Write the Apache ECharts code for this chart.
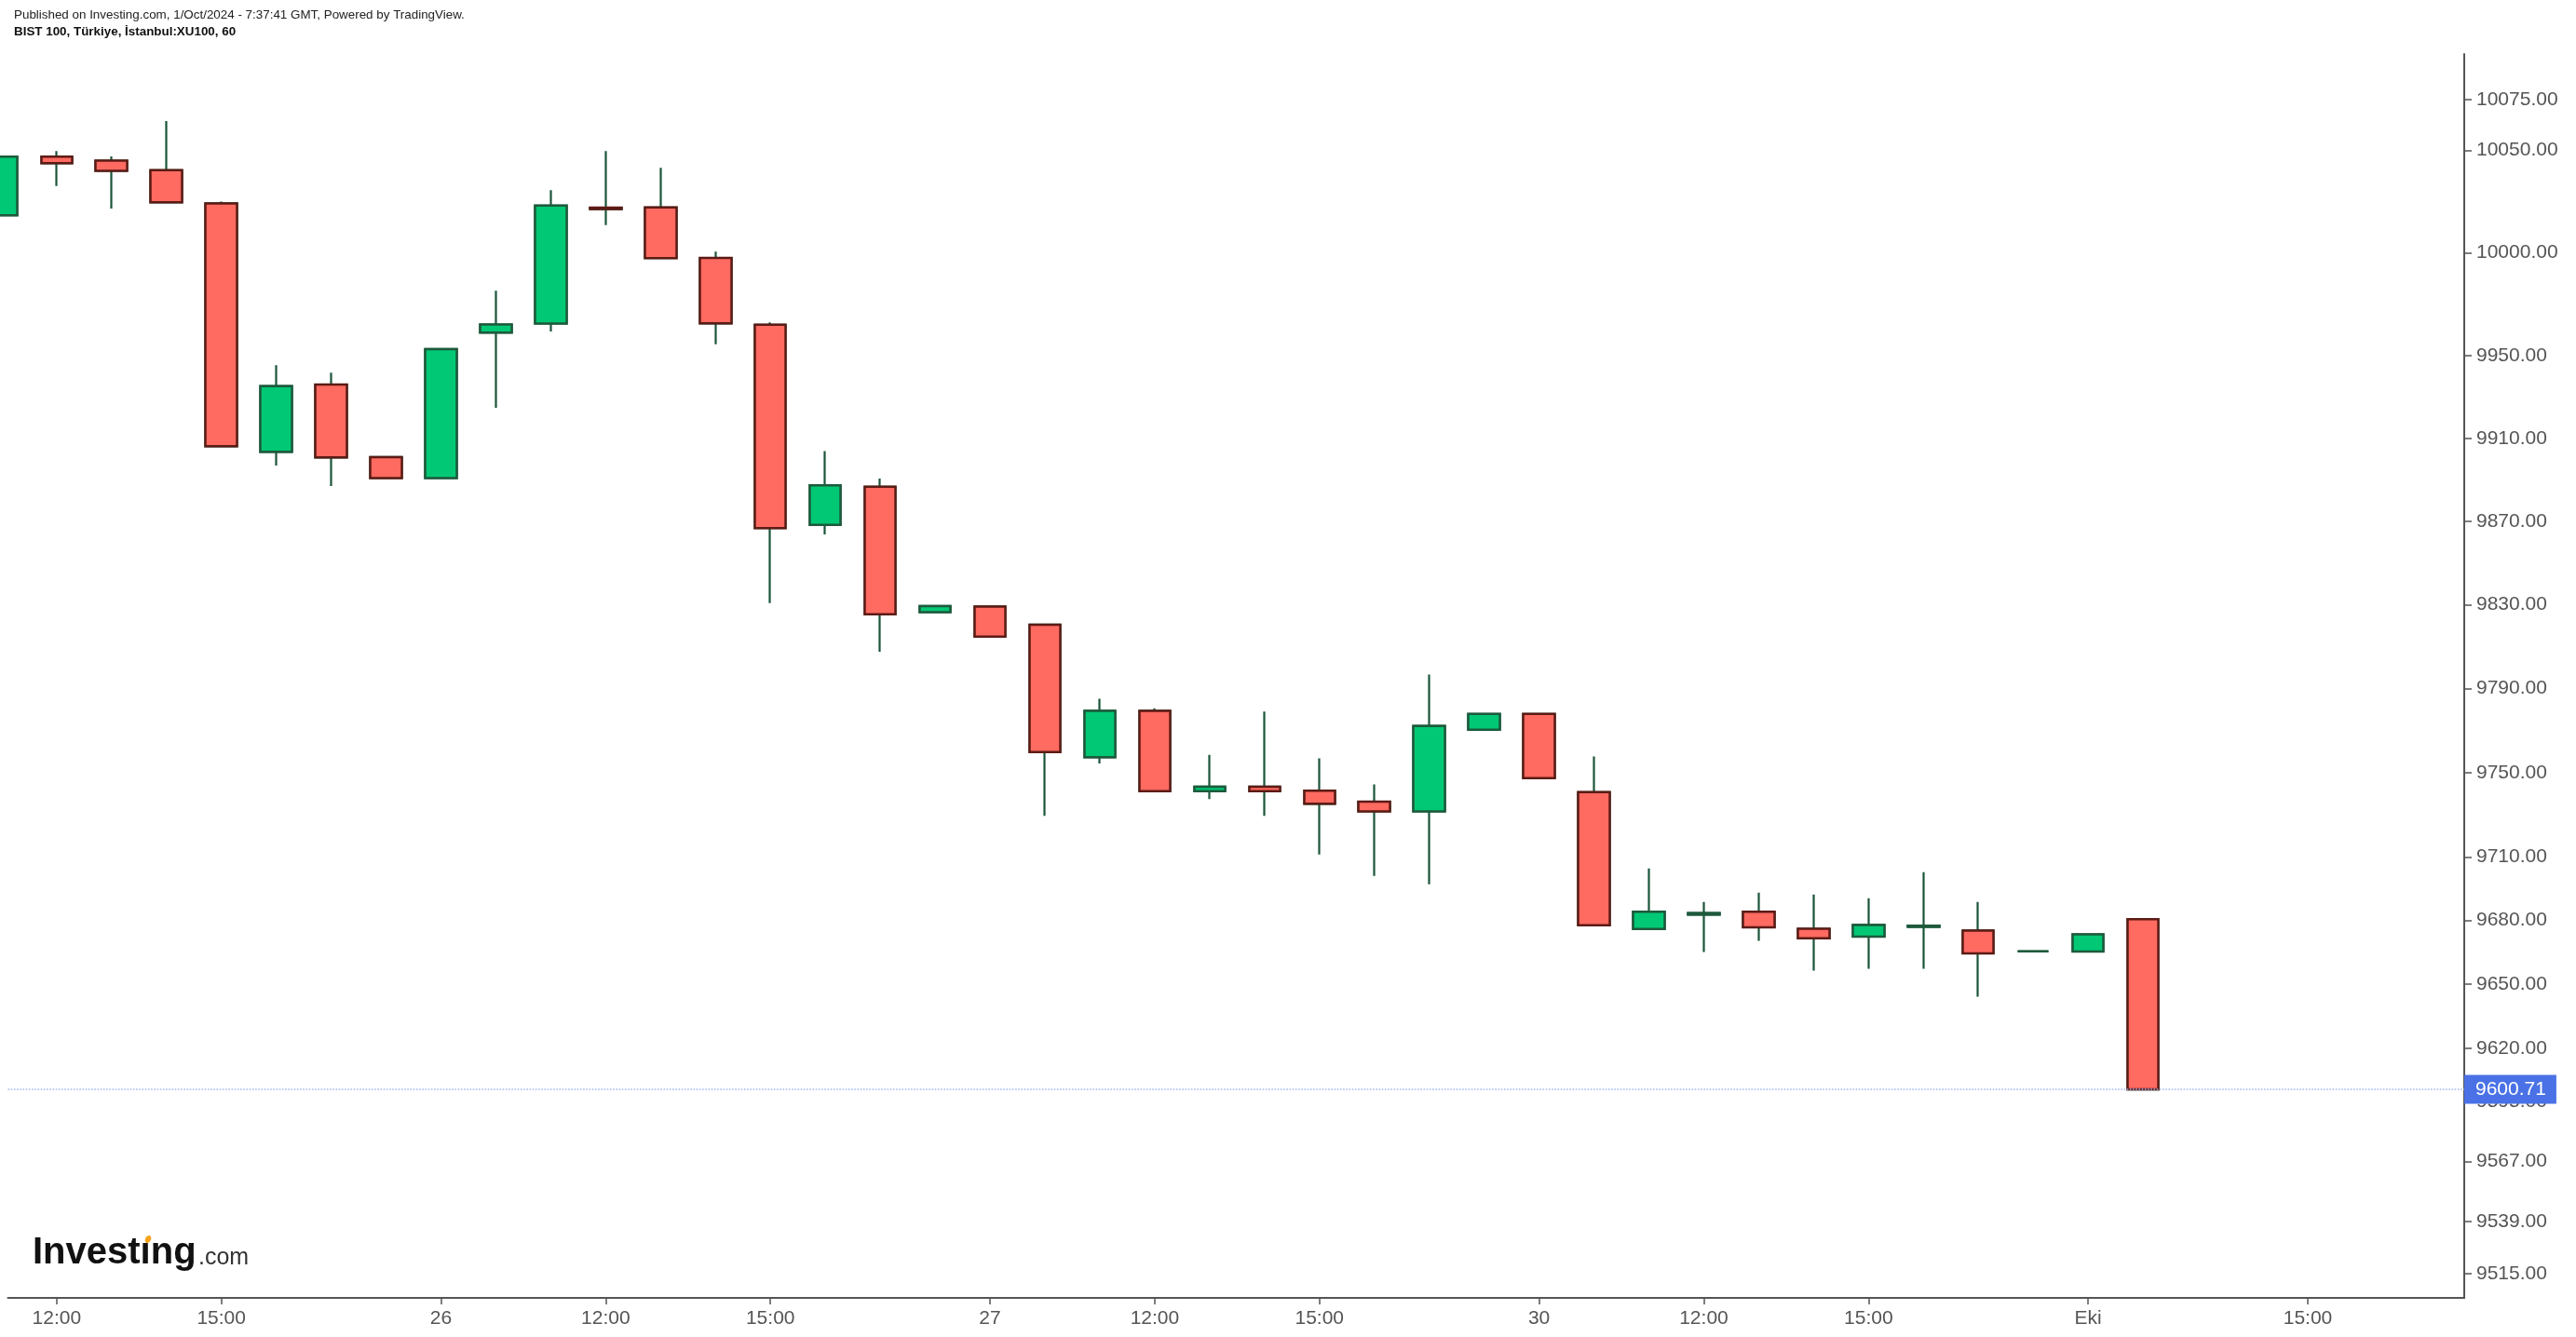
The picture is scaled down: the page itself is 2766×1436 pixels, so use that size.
<!DOCTYPE html>
<html><head><meta charset="utf-8">
<script src="https://cdn.jsdelivr.net/npm/echarts@6/dist/echarts.min.js"></script>
<style>html,body{margin:0;padding:0;background:#fff}#c{width:2766px;height:1436px}</style>
</head><body><div id="c"></div>
<script>
const times = [
  '25 11:00','25 12:00','25 13:00','25 14:00','25 15:00','25 16:00','25 17:00','25 18:00',
  '26 09:00','26 10:00','26 11:00','26 12:00','26 13:00','26 14:00','26 15:00','26 16:00','26 17:00','26 18:00',
  '27 09:00','27 10:00','27 11:00','27 12:00','27 13:00','27 14:00','27 15:00','27 16:00','27 17:00','27 18:00',
  '30 09:00','30 10:00','30 11:00','30 12:00','30 13:00','30 14:00','30 15:00','30 16:00','30 17:00','30 18:00',
  '01 09:00','01 10:00'
];
const opens = [
  10018.3,10046.9,10045.0,10040.3,10024.1,9903.5,9936.0,9901.0,
  9890.9,9961.2,9965.6,10022.0,10022.1,9997.5,9965.0,9868.4,9886.7,9826.5,
  9829.2,9820.5,9757.3,9779.4,9741.2,9743.3,9741.4,9736.2,9731.6,9770.4,
  9777.9,9740.7,9676.0,9682.8,9684.1,9676.1,9672.4,9677.0,9675.3,9665.5,
  9665.4,9680.6
];
const closes = [
  10046.9,10043.7,10040.0,10024.6,9906.2,9935.3,9900.8,9890.9,
  9953.2,9965.1,10023.0,10021.3,9997.4,9965.7,9866.8,9887.4,9825.5,9829.4,
  9814.8,9759.8,9779.4,9741.2,9743.3,9741.2,9735.2,9731.6,9772.2,9777.9,
  9747.4,9677.8,9684.1,9683.5,9676.8,9671.6,9677.9,9677.6,9664.5,9665.5,
  9673.5,9600.71
];
const lows = [
  10018.3,10032.6,10021.6,10024.6,9906.2,9896.9,9887.0,9890.9,
  9890.9,9924.8,9961.8,10013.5,9997.4,9955.6,9830.8,9863.8,9807.6,9826.5,
  9814.8,9729.5,9754.3,9741.2,9737.4,9729.5,9711.2,9701.1,9697.1,9770.4,
  9747.4,9677.8,9676.0,9665.2,9670.4,9656.4,9657.3,9657.3,9644.2,9665.5,
  9665.4,9600.71
];
const highs = [
  10046.9,10049.7,10047.0,10064.4,10025.0,9945.4,9941.8,9901.0,
  9953.2,9981.6,10030.6,10049.7,10041.5,10000.6,9966.2,9903.9,9890.6,9829.4,
  9829.2,9820.5,9785.1,9780.6,9758.4,9779.0,9756.8,9744.4,9796.7,9777.9,
  9777.9,9757.6,9704.6,9688.8,9693.2,9692.3,9690.5,9702.8,9688.8,9665.5,
  9673.5,9680.6
];
const xTickIndex = [1,4,8,11,14,18,21,24,28,31,34,38,42];
const xTickLabels = ['12:00','15:00','26','12:00','15:00','27','12:00','15:00','30','12:00','15:00','Eki','15:00'];
const yTickValues = [10075,10050,10000,9950,9910,9870,9830,9790,9750,9710,9680,9650,9620,9595,9567,9539,9515];
const lastPrice = 9600.71;

const FONT = 'Liberation Sans, Arial, sans-serif';
const fullData = times.map((t, i) => [i, opens[i], closes[i], lows[i], highs[i]]);
const bodyData = times.map((t, i) => [i, opens[i], closes[i], Math.min(opens[i], closes[i]), Math.max(opens[i], closes[i])]);

const chart = echarts.init(document.getElementById('c'));
chart.setOption({
  animation: false,
  backgroundColor: '#ffffff',
  grid: { left: 8.5, right: 120, top: 58, bottom: 42, outerBoundsMode: 'none', containLabel: false },
  xAxis: {
    type: 'value', min: 0.113, max: 44.85,
    axisLine: { show: true, lineStyle: { color: '#555555', width: 2 } },
    axisTick: { show: true, customValues: xTickIndex, length: 7, lineStyle: { color: '#555555', width: 1.5 } },
    axisLabel: {
      customValues: xTickIndex,
      formatter: v => xTickLabels[xTickIndex.indexOf(Math.round(v))] || '',
      fontSize: 21, color: '#555555', fontFamily: FONT, margin: 12
    },
    splitLine: { show: false }
  },
  yAxis: {
    type: 'log', logBase: 10, position: 'right', min: 9503.7, max: 10097.3,
    axisLine: { show: true, lineStyle: { color: '#555555', width: 2 } },
    axisTick: { show: true, customValues: yTickValues, length: 8, lineStyle: { color: '#555555', width: 1.5 } },
    axisLabel: {
      customValues: yTickValues,
      formatter: v => Number(v).toFixed(2),
      fontSize: 21, color: '#555555', fontFamily: FONT, margin: 13
    },
    splitLine: { show: false }
  },
  series: [
    {
      type: 'candlestick', data: fullData, encode: { x: 0, y: [1, 2, 3, 4] },
      barWidth: 34, clip: true, silent: true,
      itemStyle: { color: 'rgba(0,0,0,0)', color0: 'rgba(0,0,0,0)', borderColor: '#1a5539', borderColor0: '#1a5539', borderColorDoji: '#1a5539', borderWidth: 2.2 },
      emphasis: { disabled: true }
    },
    {
      type: 'candlestick', data: bodyData, encode: { x: 0, y: [1, 2, 3, 4] },
      barWidth: 34, clip: true, silent: true,
      itemStyle: { color: '#00c875', color0: '#ff6a61', borderColor: '#1d5a3c', borderColor0: '#5c1b15', borderColorDoji: '#1d5a3c', borderWidth: 2.5 },
      emphasis: { disabled: true },
      markLine: {
        silent: true, symbol: ['none', 'none'],
        lineStyle: { color: '#a4b7f3', type: 'dotted', width: 1.6 },
        label: {
          show: true, position: 'end', distance: 0,
          formatter: () => lastPrice.toFixed(2),
          backgroundColor: '#4a72e6', color: '#ffffff', fontSize: 21, fontFamily: FONT,
          padding: [5, 11, 5, 12], lineHeight: 21
        },
        data: [{ yAxis: lastPrice }]
      }
    }
  ],
  graphic: [
    { type: 'text', left: 15, top: 10, style: { text: 'Published on Investing.com, 1/Oct/2024 - 7:37:41 GMT, Powered by TradingView.', fontSize: 13.4, fontFamily: FONT, fill: '#222222' } },
    { type: 'text', left: 15, top: 28, style: { text: 'BIST 100, Türkiye, İstanbul:XU100, 60', fontSize: 13.4, fontWeight: 'bold', fontFamily: FONT, fill: '#111111' } },
    { type: 'text', x: 35, y: 1346, style: { text: 'Investıng', fontSize: 40, fontWeight: 'bold', fontFamily: FONT, fill: '#111111', verticalAlign: 'middle', align: 'left' } },
    { type: 'text', x: 213, y: 1351, style: { text: '.com', fontSize: 25, fontFamily: FONT, fill: '#333333', verticalAlign: 'middle', align: 'left' } },
    { type: 'ellipse', shape: { cx: 159, cy: 1331, rx: 3, ry: 4.2 }, rotation: -0.5, originX: 159, originY: 1331, style: { fill: '#f7a21b' } }
  ]
});
</script></body></html>
